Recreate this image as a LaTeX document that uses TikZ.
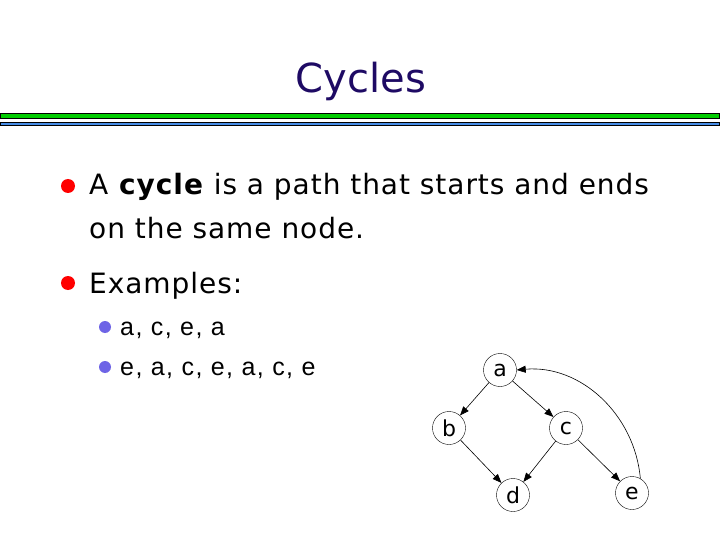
\documentclass[tikz,border=0pt]{standalone}
\usepackage{fontspec}
\setmainfont{DejaVu Sans}
\newfontfamily\bodyfont[LetterSpace=3.4]{DejaVu Sans}
\newfontfamily\arialfont[LetterSpace=5.8]{Liberation Sans}
\usetikzlibrary{arrows.meta}
\definecolor{titlecol}{RGB}{30,10,100}
\definecolor{barGreen}{RGB}{0,204,0}
\definecolor{barBlue}{RGB}{70,140,230}
\definecolor{bulletRed}{RGB}{255,0,0}
\definecolor{bulletBlue}{RGB}{110,100,230}
\tikzset{
  gnode/.style={draw, circle, minimum size=33pt, inner sep=0pt, font=\fontsize{22}{24}\selectfont},
  gedge/.style={-{Triangle[length=9pt,width=7pt]}, line width=0.6pt},
  maintext/.style={anchor=base west, inner sep=0pt, font=\bodyfont\fontsize{28}{32}\selectfont},
  subtext/.style={anchor=base west, inner sep=0pt, font=\arialfont\fontsize{25}{30}\selectfont},
}
\begin{document}
\begin{tikzpicture}[x=1pt,y=-1pt]
\useasboundingbox[fill=white] (0,0) rectangle (720,540);
% title
\node[anchor=base, inner sep=0pt, text=titlecol, font=\fontsize{40}{48}\selectfont] (title) at (361,93) {Cycles};
% bars
\draw[fill=barGreen, line width=0.8pt] (0.5,113.5) rectangle (719.5,118.3);
\draw[fill=barBlue, line width=0.8pt] (0.5,122.3) rectangle (719.5,125.7);
% bullets
\fill[bulletRed] (68,186) circle (7);
\node[maintext] (l1) at (89,195) {A \textbf{cycle} is a path that starts and ends};
\node[maintext] (l2) at (89,239) {on the same node.};
\fill[bulletRed] (68,283) circle (7);
\node[maintext] (l3) at (89,293) {Examples:};
\fill[bulletBlue] (105,327) circle (6);
\node[subtext] (s1) at (120,335) {a, c, e, a};
\fill[bulletBlue] (105,367) circle (6);
\node[subtext] (s2) at (120,375) {e, a, c, e, a, c, e};
% graph
\node[gnode] (a) at (500,370) {a};
\node[gnode] (b) at (449,428) {b};
\node[gnode] (c) at (566,428) {c};
\node[gnode] (d) at (513,495) {d};
\node[gnode] (e) at (632,493) {e};
\draw[gedge] (a) -- (b);
\draw[gedge] (a) -- (c);
\draw[gedge] (b) -- (d);
\draw[gedge] (c) -- (d);
\draw[gedge] (c) -- (e);
\draw[gedge] (e.60) to[out=95,in=5] (a.east);
\end{tikzpicture}
\end{document}
